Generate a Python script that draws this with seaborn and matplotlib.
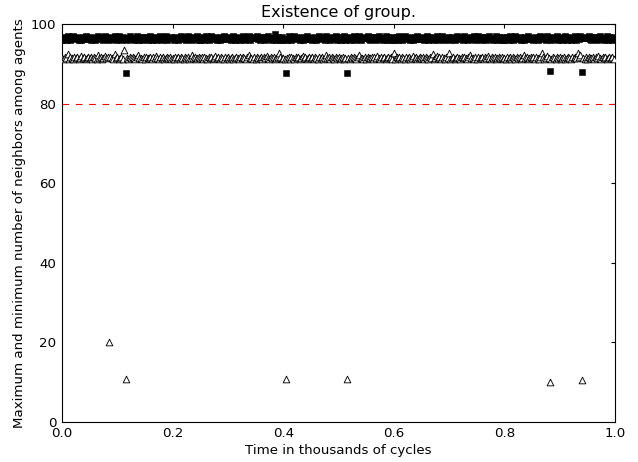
import matplotlib
matplotlib.use('Agg')
import numpy as np
import pandas as pd
import seaborn as sns
from matplotlib import pyplot as plt

# time axis (thousands of cycles), one sample every 2.5 cycles
time_k = np.linspace(0, 0.9975, 400)

# maximum number of neighbors (squares)
max_neighbors = [
    96.0, 96.3, 96.7, 96.1, 96.9, 96.4, 96.0, 96.6, 97.0, 96.2, 96.5, 96.8, 96.1, 96.4, 96.0, 96.7, 96.3, 96.9, 96.2, 96.5,
    96.6, 96.1, 96.8, 96.3, 96.0, 96.5, 97.1, 96.2, 96.7, 96.4, 96.0, 96.9, 96.3, 96.6, 96.1, 96.8, 96.2, 96.5, 97.0, 96.0,
    96.4, 96.9, 96.2, 96.0, 96.7, 96.3, 87.6, 96.1, 96.5, 97.0, 96.2, 96.6, 96.0, 96.4, 96.9, 96.1, 96.7, 96.3, 96.0, 96.8,
    96.2, 96.7, 96.0, 96.5, 96.9, 96.1, 96.4, 96.8, 96.0, 96.6, 96.3, 97.1, 96.1, 96.5, 96.2, 96.9, 96.0, 96.6, 96.4, 96.7,
    96.6, 96.1, 96.8, 96.3, 96.0, 96.5, 97.0, 96.2, 96.7, 96.4, 96.0, 96.9, 96.3, 96.6, 96.1, 96.8, 96.2, 96.5, 96.9, 96.0,
    96.0, 96.3, 96.7, 96.1, 96.9, 96.4, 96.0, 96.6, 97.0, 96.2, 96.5, 96.8, 96.1, 96.4, 96.0, 96.7, 96.3, 96.9, 96.2, 96.5,
    96.2, 96.7, 96.0, 96.5, 96.9, 96.1, 96.4, 96.8, 96.0, 96.6, 96.3, 97.0, 96.1, 96.5, 96.2, 96.9, 96.0, 96.6, 96.4, 96.7,
    96.4, 96.9, 96.2, 96.0, 96.7, 96.3, 96.8, 96.1, 96.5, 97.0, 96.2, 96.6, 96.0, 96.4, 97.6, 96.1, 96.7, 96.3, 96.0, 96.8,
    96.0, 96.3, 87.6, 96.1, 96.9, 96.4, 96.0, 96.6, 97.1, 96.2, 96.5, 96.8, 96.1, 96.4, 96.0, 96.7, 96.3, 96.9, 96.2, 96.5,
    96.6, 96.1, 96.8, 96.3, 96.0, 96.5, 96.9, 96.2, 96.7, 96.4, 96.0, 97.0, 96.3, 96.6, 96.1, 96.8, 96.2, 96.5, 97.0, 96.0,
    96.2, 96.7, 96.0, 96.5, 96.9, 96.1, 87.6, 96.8, 96.0, 96.6, 96.3, 97.1, 96.1, 96.5, 96.2, 96.9, 96.0, 96.6, 96.4, 96.7,
    96.4, 96.9, 96.2, 96.0, 96.7, 96.3, 96.8, 96.1, 96.5, 97.0, 96.2, 96.6, 96.0, 96.4, 96.9, 96.1, 96.7, 96.3, 96.0, 96.8,
    96.0, 96.3, 96.7, 96.1, 96.9, 96.4, 96.0, 96.6, 97.0, 96.2, 96.5, 96.8, 96.1, 96.4, 96.0, 96.7, 96.3, 97.1, 96.2, 96.5,
    96.2, 96.7, 96.0, 96.5, 96.9, 96.1, 96.4, 96.8, 96.0, 96.6, 96.3, 97.0, 96.1, 96.5, 96.2, 96.9, 96.0, 96.6, 96.4, 96.7,
    96.6, 96.1, 96.8, 96.3, 96.0, 96.5, 97.1, 96.2, 96.7, 96.4, 96.0, 96.9, 96.3, 96.6, 96.1, 96.8, 96.2, 96.5, 97.0, 96.0,
    96.4, 96.9, 96.2, 96.0, 96.7, 96.3, 96.8, 96.1, 96.5, 97.0, 96.2, 96.6, 96.0, 96.4, 96.9, 96.1, 96.7, 96.3, 96.0, 96.8,
    96.0, 96.3, 96.7, 96.1, 96.9, 96.4, 96.0, 96.6, 97.0, 96.2, 96.5, 96.8, 96.1, 96.4, 96.0, 96.7, 96.3, 96.9, 96.2, 96.5,
    96.6, 96.1, 96.8, 96.3, 96.0, 96.5, 97.0, 96.2, 96.7, 96.4, 96.0, 96.9, 96.3, 88.2, 96.1, 96.8, 96.2, 96.5, 97.1, 96.0,
    96.2, 96.7, 96.0, 96.5, 96.9, 96.1, 96.4, 96.8, 96.0, 96.6, 96.3, 97.0, 96.1, 96.5, 96.2, 96.9, 88.0, 96.6, 96.4, 96.7,
    96.4, 96.9, 96.2, 96.0, 96.7, 96.3, 96.8, 96.1, 96.5, 97.0, 96.2, 96.6, 96.0, 96.4, 96.9, 96.1, 96.7, 96.3, 96.0, 96.8,
]

# minimum number of neighbors (triangles)
min_neighbors = [
    91.5, 91.3, 91.7, 91.4, 92.4, 91.2, 91.8, 91.5, 91.3, 91.6, 91.4, 91.7, 91.3, 91.5, 91.9, 91.4, 91.6, 91.2, 91.5, 91.7,
    91.4, 91.6, 91.3, 91.8, 91.5, 91.2, 92.3, 91.4, 91.7, 91.3, 91.5, 92.0, 91.4, 91.6, 20.0, 91.7, 91.5, 91.2, 92.4, 91.4,
    91.6, 91.3, 91.5, 91.7, 91.2, 93.4, 10.7, 91.5, 91.3, 91.6, 91.4, 91.7, 91.5, 91.3, 91.6, 92.1, 91.4, 91.5, 91.3, 91.7,
    91.3, 91.7, 91.4, 91.5, 91.8, 91.3, 91.6, 91.4, 92.0, 91.5, 91.3, 91.7, 91.4, 91.6, 91.2, 91.5, 91.8, 91.4, 91.6, 91.3,
    91.5, 91.3, 91.7, 91.4, 91.6, 91.2, 91.8, 91.5, 91.3, 91.6, 91.4, 91.7, 91.3, 91.5, 92.1, 91.4, 91.6, 91.2, 91.5, 91.7,
    91.4, 91.6, 91.3, 91.8, 91.5, 91.2, 91.6, 91.4, 91.7, 91.3, 91.5, 92.0, 91.4, 91.6, 91.3, 91.7, 91.5, 91.2, 91.6, 91.4,
    91.6, 91.3, 91.5, 91.7, 91.2, 91.4, 91.8, 91.5, 91.3, 91.6, 91.4, 91.7, 91.5, 91.3, 91.6, 92.1, 91.4, 91.5, 91.3, 91.7,
    91.3, 91.7, 91.4, 91.5, 91.8, 91.3, 91.6, 91.4, 92.0, 91.5, 91.3, 91.7, 91.4, 91.6, 91.2, 91.5, 91.8, 92.6, 91.6, 91.3,
    91.5, 91.3, 10.7, 91.4, 91.6, 91.2, 91.8, 91.5, 91.3, 91.6, 91.4, 91.7, 91.3, 91.5, 91.9, 91.4, 91.6, 91.2, 91.5, 91.7,
    91.4, 91.6, 91.3, 91.8, 91.5, 91.2, 91.6, 91.4, 91.7, 91.3, 91.5, 92.2, 91.4, 91.6, 91.3, 91.7, 91.5, 91.2, 91.6, 91.4,
    91.6, 91.3, 91.5, 91.7, 91.2, 91.4, 10.7, 91.5, 91.3, 91.6, 91.4, 91.7, 91.5, 91.3, 91.6, 92.1, 91.4, 91.5, 91.3, 91.7,
    91.3, 91.7, 91.4, 91.5, 91.8, 91.3, 91.6, 91.4, 92.0, 91.5, 91.3, 91.7, 91.4, 91.6, 91.2, 91.5, 91.8, 91.4, 91.6, 91.3,
    92.6, 91.3, 91.7, 91.4, 91.6, 91.2, 91.8, 91.5, 91.3, 91.6, 91.4, 91.7, 91.3, 91.5, 91.9, 91.4, 91.6, 91.2, 91.5, 91.7,
    91.4, 91.6, 91.3, 91.8, 91.5, 91.2, 91.6, 91.4, 92.5, 91.3, 91.5, 92.0, 91.4, 91.6, 91.3, 91.7, 91.5, 91.2, 91.6, 91.4,
    92.6, 91.3, 91.5, 91.7, 91.2, 91.4, 91.8, 91.5, 91.3, 91.6, 91.4, 91.7, 91.5, 91.3, 91.6, 92.1, 91.4, 91.5, 91.3, 91.7,
    91.3, 91.7, 91.4, 91.5, 91.8, 91.3, 91.6, 91.4, 92.0, 91.5, 91.3, 91.7, 91.4, 91.6, 91.2, 91.5, 91.8, 91.4, 91.6, 91.3,
    91.5, 91.3, 91.7, 91.4, 91.6, 91.2, 91.8, 91.5, 91.3, 91.6, 91.4, 91.7, 91.3, 91.5, 92.2, 91.4, 91.6, 91.2, 91.5, 91.7,
    91.4, 91.6, 91.3, 91.8, 91.5, 91.2, 91.6, 92.6, 91.7, 91.3, 91.5, 92.0, 91.4, 10.0, 91.3, 91.7, 91.5, 91.2, 91.6, 91.4,
    91.6, 91.3, 91.5, 91.7, 91.2, 91.4, 91.8, 91.5, 91.3, 91.6, 91.4, 91.7, 91.5, 92.7, 91.6, 92.1, 10.4, 91.5, 91.3, 91.7,
    91.3, 91.7, 91.4, 91.5, 91.8, 91.3, 91.6, 91.4, 92.0, 91.5, 91.3, 91.7, 91.4, 91.6, 91.2, 91.5, 91.8, 91.4, 91.6, 91.3,
]

group_threshold = 80

sns.set_style("white")
plt.rcParams['font.family'] = ['DejaVu Sans']
plt.rcParams['font.size'] = 12
plt.rcParams['text.color'] = 'black'
plt.rcParams['axes.labelcolor'] = 'black'

df = pd.DataFrame({"time": time_k, "max": max_neighbors, "min": min_neighbors})

fig = plt.figure(figsize=(638 / 80, 462 / 80), dpi=80)
ax = fig.add_axes([62 / 638, 40.3 / 462, 553 / 638, 397.7 / 462])

sns.scatterplot(data=df, x="time", y="max", marker="s", s=36, color="black",
                edgecolor="black", linewidth=0.5, ax=ax, zorder=3)
sns.scatterplot(data=df, x="time", y="min", marker="^", s=36, color="white",
                edgecolor="black", linewidth=0.8, ax=ax, zorder=3)
ax.axhline(group_threshold, color="red", linestyle="--", dashes=(6, 6), linewidth=1, zorder=2)

ax.set_xlim(0, 1.0)
ax.set_ylim(0, 100)
ax.set_xticks([0.0, 0.2, 0.4, 0.6, 0.8, 1.0])
ax.set_yticks([0, 20, 40, 60, 80, 100])
ax.tick_params(direction="in", top=True, right=True, length=4, width=1,
               labelsize=12, colors="black", pad=5)
for spine in ax.spines.values():
    spine.set_color("black")
    spine.set_linewidth(1)

ax.set_title("Existence of group.", fontsize=14.4, pad=6, color="black")
ax.set_xlabel("Time in thousands of cycles", fontsize=12, labelpad=3)
ax.set_ylabel("Maximum and minimum number of neighbors among agents", fontsize=12, labelpad=4)

plt.savefig("out.png", dpi=80)
plt.close()
